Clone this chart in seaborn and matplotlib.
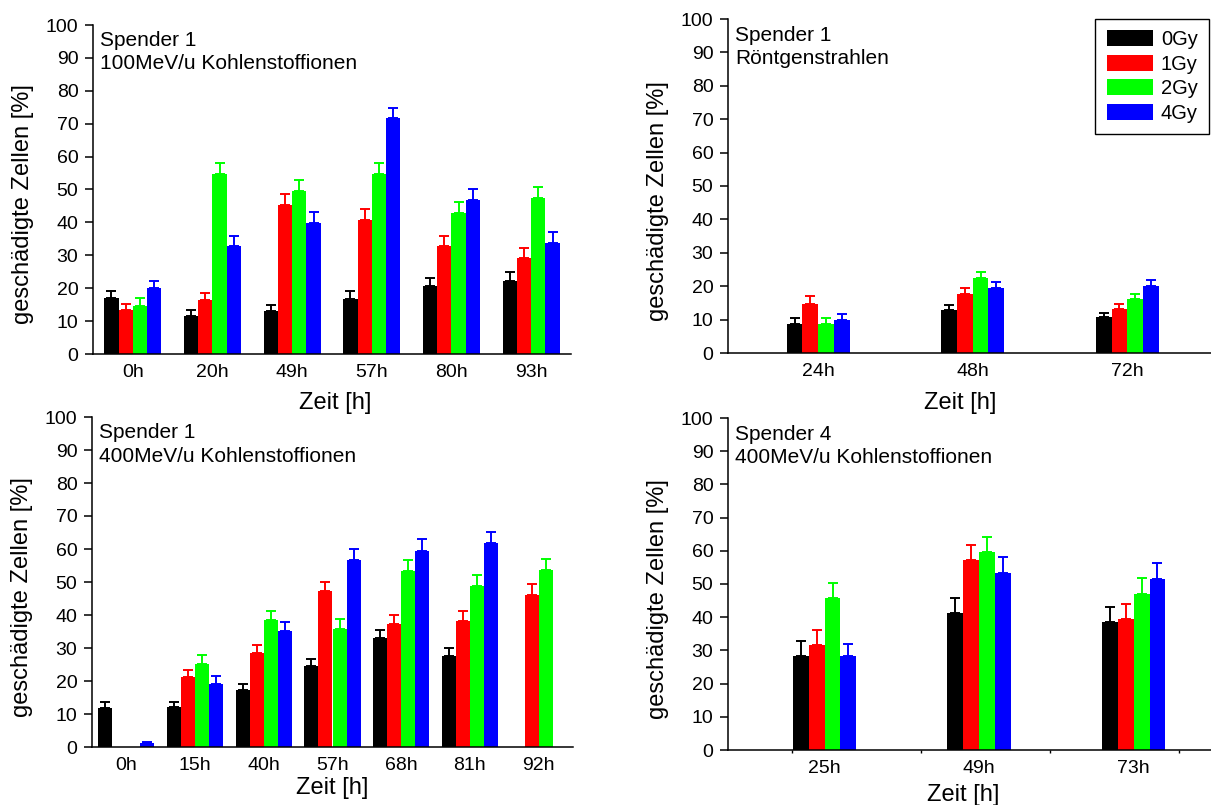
import numpy as np
import pandas as pd
import matplotlib
matplotlib.use("Agg")
import matplotlib.pyplot as plt
import matplotlib.colors as mcolors
import seaborn as sns

# ---------------- data ----------------
doses = ["0Gy", "1Gy", "2Gy", "4Gy"]
dose_colors = ["#000000", "#ff0000", "#00ff00", "#0000ff"]

# Panel A: Spender 1, 100MeV/u Kohlenstoffionen
a_times = ["0h", "20h", "49h", "57h", "80h", "93h"]
a_0gy = [17.0, 11.7, 13.1, 16.7, 20.6, 22.2]
a_1gy = [13.5, 16.4, 45.2, 40.7, 32.7, 29.2]
a_2gy = [14.7, 54.7, 49.5, 54.7, 43.0, 47.3]
a_4gy = [20.1, 32.8, 39.7, 71.7, 46.7, 33.6]
a_0gy_err = [2.2, 1.6, 1.8, 2.6, 2.6, 2.8]
a_1gy_err = [1.8, 2.0, 3.4, 3.4, 3.1, 3.0]
a_2gy_err = [2.2, 3.4, 3.5, 3.5, 3.2, 3.5]
a_4gy_err = [2.2, 3.2, 3.4, 3.2, 3.6, 3.5]

# Panel B: Spender 1, 400MeV/u Kohlenstoffionen
b_times = ["0h", "15h", "40h", "57h", "68h", "81h", "92h"]
b_0gy = [11.7, 12.1, 17.2, 24.4, 32.9, 27.6, np.nan]
b_1gy = [np.nan, 21.1, 28.4, 47.2, 37.2, 38.1, 46.2]
b_2gy = [np.nan, 25.3, 38.6, 35.9, 53.2, 48.8, 53.5]
b_4gy = [1.2, 19.2, 35.3, 56.6, 59.4, 61.9, np.nan]
b_0gy_err = [1.9, 1.6, 2.0, 2.3, 2.5, 2.5, np.nan]
b_1gy_err = [np.nan, 2.2, 2.5, 2.8, 2.8, 3.2, 3.3]
b_2gy_err = [np.nan, 2.5, 2.7, 2.8, 3.5, 3.4, 3.5]
b_4gy_err = [0.3, 2.3, 2.6, 3.4, 3.5, 3.3, np.nan]

# Panel C: Spender 1, Röntgenstrahlen (time axis in hours)
c_hours = [24, 48, 72]
c_0gy = [8.8, 12.8, 10.8]
c_1gy = [14.8, 17.8, 13.3]
c_2gy = [8.8, 22.6, 16.2]
c_4gy = [10.0, 19.6, 20.1]
c_0gy_err = [1.7, 1.5, 1.2]
c_1gy_err = [2.3, 1.6, 1.5]
c_2gy_err = [1.7, 1.6, 1.5]
c_4gy_err = [1.8, 1.6, 1.7]

# Panel D: Spender 4, 400MeV/u Kohlenstoffionen
d_hours = [25, 49, 73]
d_0gy = [28.3, 41.2, 38.5]
d_1gy = [31.5, 57.1, 39.4]
d_2gy = [45.9, 59.6, 47.0]
d_4gy = [28.4, 53.2, 51.5]
d_0gy_err = [4.4, 4.6, 4.5]
d_1gy_err = [4.5, 4.7, 4.7]
d_2gy_err = [4.5, 4.6, 4.7]
d_4gy_err = [3.6, 4.9, 4.8]

# ---------------- style ----------------
sns.set_theme(style="ticks")
plt.rcParams["font.family"] = ["Liberation Sans", "DejaVu Sans"]
plt.rcParams["axes.linewidth"] = 1.1
plt.rcParams["text.color"] = "black"
plt.rcParams["axes.labelcolor"] = "black"
plt.rcParams["xtick.color"] = "black"
plt.rcParams["ytick.color"] = "black"
plt.rcParams["axes.edgecolor"] = "black"

W, H = 1211, 805
fig = plt.figure(figsize=(W / 100, H / 100), dpi=100)

TICK_FS = 14
LABEL_FS = 17
ANN_FS = 15


def make_df(times, vals, errs):
    rows = []
    for dose, v, e in zip(doses, vals, errs):
        for t, vv, ee in zip(times, v, e):
            if not np.isnan(vv):
                rows.append({"time": t, "dose": dose, "value": vv, "err": ee})
    return pd.DataFrame(rows)


def axes_px(l, r, top, bottom):
    return fig.add_axes([l / W, (H - bottom) / H, (r - l) / W, (bottom - top) / H])


def draw_panel(ax, df, order, native, width, xlim, line1, line2, xlab_pos):
    palette = dict(zip(doses, dose_colors))
    kw = dict(data=df, x="time", y="value", hue="dose", hue_order=doses,
              palette=palette, errorbar=None, width=width, linewidth=0,
              saturation=1, ax=ax, legend=(line2 == "Röntgenstrahlen"))
    if native:
        sns.barplot(native_scale=True, **kw)
        positions = np.array(order, dtype=float)
    else:
        sns.barplot(order=order, **kw)
        positions = np.arange(len(order), dtype=float)

    # one-sided (upward) error bars, anchored on the drawn bars
    col2dose = {mcolors.to_hex(c): d for d, c in zip(doses, dose_colors)}
    for bar in ax.patches:
        h = bar.get_height()
        if not np.isfinite(h) or h <= 0:
            continue
        dose = col2dose.get(mcolors.to_hex(bar.get_facecolor()))
        if dose is None:
            continue
        cx = bar.get_x() + bar.get_width() / 2
        gi = int(np.argmin(np.abs(positions - cx)))
        sub = df[(df["dose"] == dose) & (df["time"] == order[gi])]
        if sub.empty:
            continue
        e = float(sub["err"].iloc[0])
        ax.errorbar([cx], [h], yerr=[[0], [e]], fmt="none",
                    ecolor=palette[dose], elinewidth=1.4, capsize=3.3,
                    capthick=1.4, zorder=1)

    ax.set_xlim(*xlim)
    ax.set_ylim(0, 100)
    ax.set_yticks(np.arange(0, 101, 10))
    ax.set_xticks(positions)
    if native:
        ax.set_xticklabels([f"{int(p)}h" for p in positions])
    else:
        ax.set_xticklabels(order)
    ax.tick_params(axis="y", direction="out", length=5.5, width=1.1,
                   labelsize=TICK_FS, pad=5, colors="black")
    ax.tick_params(axis="x", which="major", length=0, labelsize=TICK_FS, pad=7,
                   colors="black")
    sns.despine(ax=ax)

    ax.set_xlabel("Zeit [h]", fontsize=LABEL_FS, va="center", color="black")
    ax.xaxis.set_label_coords(*xlab_pos)
    ax.set_ylabel("geschädigte Zellen [%]", fontsize=LABEL_FS, va="center",
                  color="black")
    wpx = ax.get_position().width * W
    ax.yaxis.set_label_coords(-70 / wpx, 0.455)

    xoff = 7 / wpx
    ax.text(xoff, 93.5, line1, transform=ax.get_yaxis_transform(),
            fontsize=ANN_FS, va="baseline", ha="left", color="black")
    ax.text(xoff, 86.5, line2, transform=ax.get_yaxis_transform(),
            fontsize=ANN_FS, va="baseline", ha="left", color="black")


# Panel A
axA = axes_px(93, 571, 25, 354)
dfA = make_df(a_times, [a_0gy, a_1gy, a_2gy, a_4gy],
              [a_0gy_err, a_1gy_err, a_2gy_err, a_4gy_err])
draw_panel(axA, dfA, a_times, False, 0.715, (-0.5, len(a_times) - 0.5),
           "Spender 1", "100MeV/u Kohlenstoffionen", (0.506, -0.149))

# Panel B
axB = axes_px(92, 573, 417, 747)
dfB = make_df(b_times, [b_0gy, b_1gy, b_2gy, b_4gy],
              [b_0gy_err, b_1gy_err, b_2gy_err, b_4gy_err])
draw_panel(axB, dfB, b_times, False, 0.816, (-0.5, len(b_times) - 0.5),
           "Spender 1", "400MeV/u Kohlenstoffionen", (0.5, -0.124))

# Panel C
axC = axes_px(728, 1211, 19, 353)
dfC = make_df(c_hours, [c_0gy, c_1gy, c_2gy, c_4gy],
              [c_0gy_err, c_1gy_err, c_2gy_err, c_4gy_err])
draw_panel(axC, dfC, c_hours, True, 0.407, (10, 85),
           "Spender 1", "Röntgenstrahlen", (0.48, -0.150))

# Panel D
axD = axes_px(728, 1211, 418, 750)
dfD = make_df(d_hours, [d_0gy, d_1gy, d_2gy, d_4gy],
              [d_0gy_err, d_1gy_err, d_2gy_err, d_4gy_err])
draw_panel(axD, dfD, d_hours, True, 0.41, (10, 85),
           "Spender 4", "400MeV/u Kohlenstoffionen", (0.487, -0.136))
axD.set_xticks([20, 40, 60, 80], minor=True)
axD.tick_params(axis="x", which="minor", length=2, width=1.0, direction="out")

# Legend in panel C
leg = axC.get_legend()
handles = leg.legend_handles
labels = [t.get_text() for t in leg.get_texts()]
leg.remove()
newleg = axC.legend(handles, labels, loc="upper right",
                    bbox_to_anchor=(1209 / W, 1 - 19 / H),
                    bbox_transform=fig.transFigure, borderaxespad=0,
                    frameon=True, fancybox=False, edgecolor="black",
                    fontsize=14.5, handlelength=2.3, handleheight=0.85,
                    labelspacing=0.28, handletextpad=0.4, borderpad=0.55,
                    framealpha=1)
newleg.get_frame().set_linewidth(1.0)
for t in newleg.get_texts():
    t.set_color("black")

fig.savefig("out.png", dpi=100)
